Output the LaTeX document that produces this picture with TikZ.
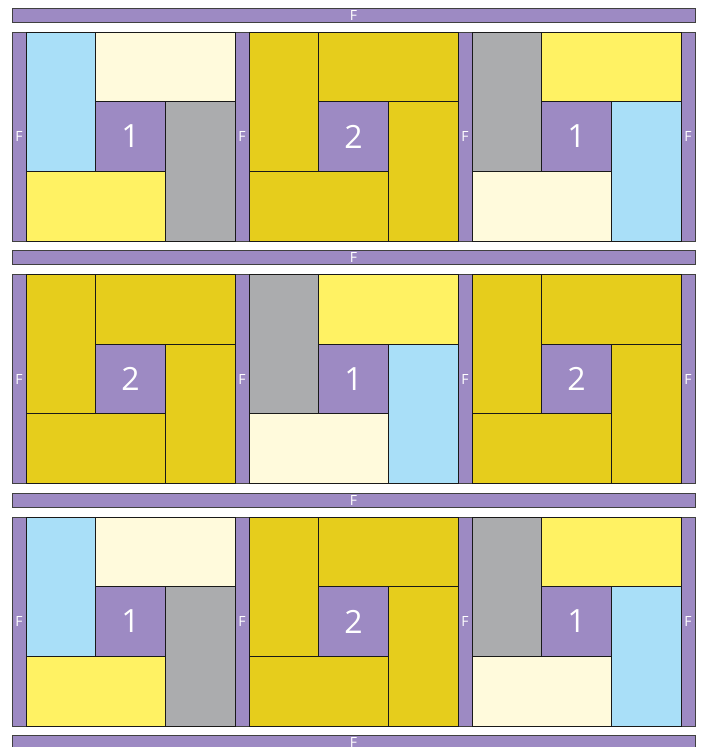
\documentclass[tikz,border=0pt]{standalone}
\usepackage{fontspec}
\setmainfont{Open Sans}
\usepackage{xcolor}
\usepackage{tikz}

\definecolor{quiltlav}{HTML}{9D8AC3}
\definecolor{quiltsky}{HTML}{A9DFF8}
\definecolor{quiltcream}{HTML}{FFFADC}
\definecolor{quiltgray}{HTML}{ABACAE}
\definecolor{quiltlemon}{HTML}{FFF263}
\definecolor{quiltmustard}{HTML}{E6CD1C}

\begin{document}
\begin{tikzpicture}[x=1pt,y=-1pt,
  patch/.style={rectangle,draw=black!90,line width=0.9pt,inner sep=0pt,outer sep=0pt},
  sq/.style={patch,fill=quiltlav,minimum width=69.67pt,minimum height=69.67pt,
    text=white,font=\fontsize{32}{32}\selectfont},
  tall/.style={patch,minimum width=69.67pt,minimum height=139.33pt},
  wide/.style={patch,minimum width=139.33pt,minimum height=69.67pt},
  strip/.style={patch,draw=black!75,fill=quiltlav,minimum width=14pt,minimum height=209pt,
    text=white,font=\fontsize{14}{14}\selectfont},
  bar/.style={strip,minimum width=683pt,minimum height=14pt}]
\clip (0,0) rectangle (704,747);
\foreach \k in {0,...,3}
  \node[bar,anchor=north west] (h\k) at (12,{8.25+242.5*\k}) {F};
\foreach \r in {0,1,2}
  \foreach \k in {0,...,3}
    \node[strip,anchor=north west] (f\r\k) at ({12+223*\k},{32+242.5*\r}) {F};
\foreach \r/\c/\lc/\tc/\rc/\bc/\n in {
  0/0/quiltsky/quiltcream/quiltgray/quiltlemon/1,
  0/1/quiltmustard/quiltmustard/quiltmustard/quiltmustard/2,
  0/2/quiltgray/quiltlemon/quiltsky/quiltcream/1,
  1/0/quiltmustard/quiltmustard/quiltmustard/quiltmustard/2,
  1/1/quiltgray/quiltlemon/quiltsky/quiltcream/1,
  1/2/quiltmustard/quiltmustard/quiltmustard/quiltmustard/2,
  2/0/quiltsky/quiltcream/quiltgray/quiltlemon/1,
  2/1/quiltmustard/quiltmustard/quiltmustard/quiltmustard/2,
  2/2/quiltgray/quiltlemon/quiltsky/quiltcream/1}
{
  \node[sq] (c\r\c) at ({130.5+223*\c},{136.5+242.5*\r}) {\n};
  \node[tall,fill=\lc,anchor=south east] (l\r\c) at (c\r\c.south west) {};
  \node[wide,fill=\tc,anchor=south west] (t\r\c) at (c\r\c.north west) {};
  \node[tall,fill=\rc,anchor=north west] (r\r\c) at (c\r\c.north east) {};
  \node[wide,fill=\bc,anchor=north east] (b\r\c) at (c\r\c.south east) {};
}
\end{tikzpicture}
\end{document}
